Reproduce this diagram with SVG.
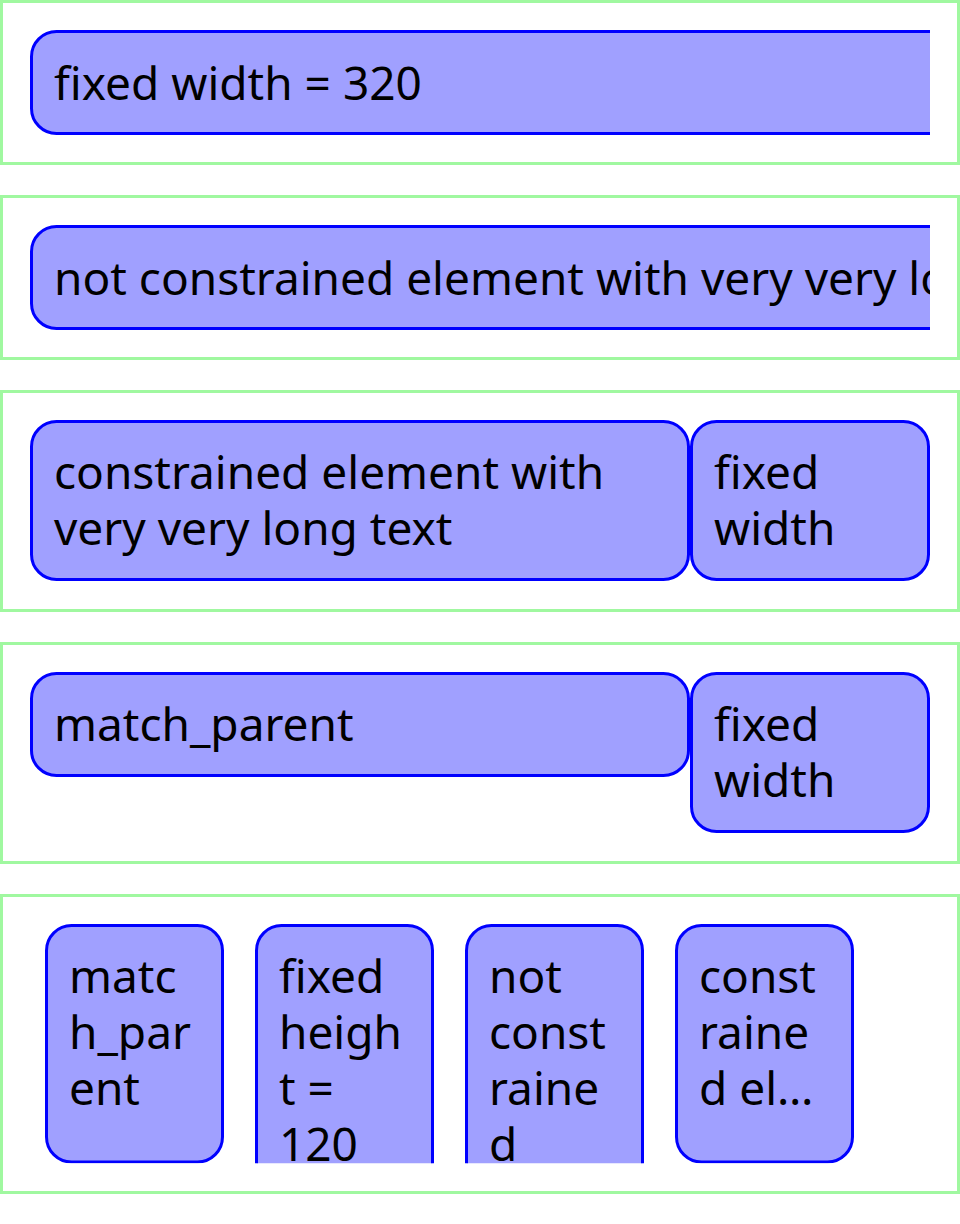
<svg xmlns="http://www.w3.org/2000/svg" width="960" height="1224" viewBox="0 0 960 1224">
<style>
.frame{fill:#ffffff;stroke:#a0f8a0;stroke-width:3}
.box{fill:#a0a0ff;stroke:#0000ff;stroke-width:3}
.t{font-family:"Noto Sans","Open Sans","DejaVu Sans",sans-serif;font-size:46px;fill:#000000}
</style>
<defs>
<clipPath id="clipW"><rect x="0" y="0" width="930" height="1224"/></clipPath>
<clipPath id="clipH"><rect x="0" y="0" width="960" height="1163.3"/></clipPath>
</defs>
<rect width="960" height="1224" fill="#ffffff"/>
<g id="frame1">
<rect class="frame" x="1.5" y="1.5" width="957" height="162"/>
<g id="node-fixed-320" clip-path="url(#clipW)">
<rect class="box" x="31.5" y="31.5" width="960" height="102" rx="25"/>
<text class="t" x="54" y="99.5">fixed width = 320</text>
</g>
</g>
<g id="frame2">
<rect class="frame" x="1.5" y="196.5" width="957" height="162"/>
<g id="node-not-constrained" clip-path="url(#clipW)">
<rect class="box" x="31.5" y="226.5" width="1400" height="102" rx="25"/>
<text class="t" x="54" y="294.5">not constrained element with very very long text</text>
</g>
</g>
<g id="frame3">
<rect class="frame" x="1.5" y="391.5" width="957" height="219"/>
<g id="node-constrained">
<rect class="box" x="31.5" y="421.5" width="657" height="158" rx="25"/>
<text class="t" x="54" y="488.5">constrained element with</text>
<text class="t" x="54" y="544.5">very very long text</text>
</g>
<g id="node-fixed-width-1">
<rect class="box" x="691.5" y="421.5" width="237" height="158" rx="25"/>
<text class="t" x="714" y="488.5">fixed</text>
<text class="t" x="714" y="544.5">width</text>
</g>
</g>
<g id="frame4">
<rect class="frame" x="1.5" y="643.5" width="957" height="219"/>
<g id="node-match-parent">
<rect class="box" x="31.5" y="673.5" width="657" height="102" rx="25"/>
<text class="t" x="54" y="740.5">match_parent</text>
</g>
<g id="node-fixed-width-2">
<rect class="box" x="691.5" y="673.5" width="237" height="158" rx="25"/>
<text class="t" x="714" y="740.5">fixed</text>
<text class="t" x="714" y="796.5">width</text>
</g>
</g>
<g id="frame5">
<rect class="frame" x="1.5" y="895.5" width="957" height="297"/>
<g id="node-col-match" clip-path="url(#clipH)">
<rect class="box" x="46.5" y="925.5" width="176" height="236.5" rx="25"/>
<text class="t" x="69" y="992.5">matc</text>
<text class="t" x="69" y="1048.5">h_par</text>
<text class="t" x="69" y="1104.5">ent</text>
</g>
<g id="node-col-fixed-height" clip-path="url(#clipH)">
<rect class="box" x="256.5" y="925.5" width="176" height="300" rx="25"/>
<text class="t" x="279" y="992.5">fixed</text>
<text class="t" x="279" y="1048.5">heigh</text>
<text class="t" x="279" y="1104.5">t =</text>
<text class="t" x="279" y="1160.5">120</text>
</g>
<g id="node-col-not-constrained" clip-path="url(#clipH)">
<rect class="box" x="466.5" y="925.5" width="176" height="300" rx="25"/>
<text class="t" x="489" y="992.5">not</text>
<text class="t" x="489" y="1048.5">const</text>
<text class="t" x="489" y="1104.5">raine</text>
<text class="t" x="489" y="1160.5">d</text>
</g>
<g id="node-col-constrained" clip-path="url(#clipH)">
<rect class="box" x="676.5" y="925.5" width="176" height="236.5" rx="25"/>
<text class="t" x="699" y="992.5">const</text>
<text class="t" x="699" y="1048.5">raine</text>
<text class="t" x="699" y="1104.5">d el…</text>
</g>
</g>
<g id="connectors"/>
</svg>
